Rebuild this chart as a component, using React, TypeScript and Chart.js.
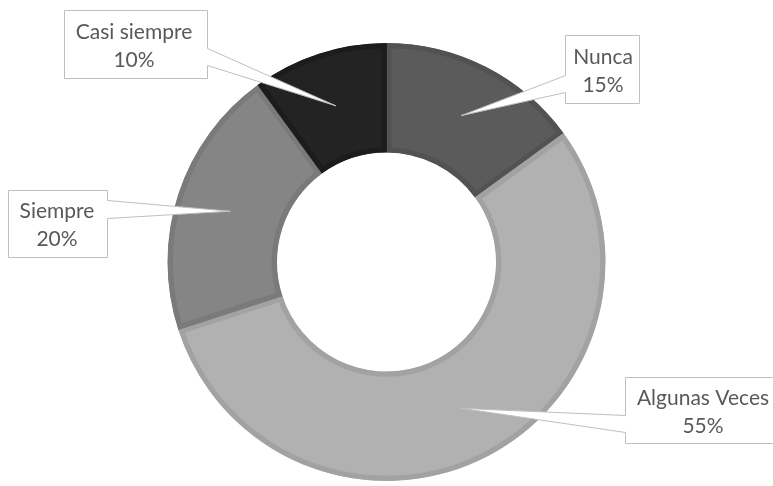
import React, { useEffect, useRef } from "react";
import { Chart, registerables } from "chart.js";

Chart.register(...registerables);

const categories = ["Nunca", "Algunas Veces", "Siempre", "Casi siempre"];
const values = [15, 55, 20, 10];
const percentLabels = ["15%", "55%", "20%", "10%"];
const fillColors = ["#5b5b5b", "#b1b1b1", "#858585", "#232323"];
const borderColors = ["#525252", "#a2a2a2", "#7a7a7a", "#1c1c1c"];

// callout boxes: [left, top, right, bottom], pointer side, base y1, base y2, text centre x
const callouts = [
  { box: [565, 35, 639, 103], side: "left", b1: 75, b2: 92, tx: 603 },
  { box: [625, 377, 790, 443], side: "left", b1: 415, b2: 432, tx: 703 },
  { box: [8, 190, 107, 257], side: "right", b1: 200, b2: 218, tx: 57 },
  { box: [64, 10, 207, 78], side: "right", b1: 48, b2: 65, tx: 134 },
];

const calloutPlugin = {
  id: "callouts",
  afterDraw(chart: any) {
    const ctx = chart.ctx;
    const meta = chart.getDatasetMeta(0);
    ctx.save();
    meta.data.forEach((arc: any, i: number) => {
      const c = callouts[i];
      const tip = arc.tooltipPosition();
      const [l, t, r, b] = c.box.map((v: number) => v + 0.5);
      ctx.beginPath();
      if (c.side === "right") {
        ctx.moveTo(l, t);
        ctx.lineTo(r, t);
        ctx.lineTo(r, c.b1 + 0.5);
        ctx.lineTo(tip.x, tip.y);
        ctx.lineTo(r, c.b2 + 0.5);
        ctx.lineTo(r, b);
        ctx.lineTo(l, b);
      } else {
        ctx.moveTo(l, t);
        ctx.lineTo(r, t);
        ctx.lineTo(r, b);
        ctx.lineTo(l, b);
        ctx.lineTo(l, c.b2 + 0.5);
        ctx.lineTo(tip.x, tip.y);
        ctx.lineTo(l, c.b1 + 0.5);
      }
      ctx.closePath();
      ctx.fillStyle = "#ffffff";
      ctx.fill();
      ctx.lineWidth = 1;
      ctx.strokeStyle = "#bfbfbf";
      ctx.stroke();

      const cy = (c.box[1] + c.box[3]) / 2;
      ctx.fillStyle = "#595959";
      ctx.font = "21px Lato, 'Open Sans', sans-serif";
      ctx.textAlign = "center";
      ctx.textBaseline = "middle";
      ctx.fillText(categories[i], c.tx, cy - 12);
      ctx.fillText(percentLabels[i], c.tx, cy + 16);
    });
    ctx.restore();
  },
};

export default function App() {
  const ref = useRef<HTMLCanvasElement>(null);
  useEffect(() => {
    document.body.style.margin = "0";
    const chart = new Chart(ref.current!, {
      type: "doughnut",
      data: {
        labels: categories,
        datasets: [
          {
            data: values,
            backgroundColor: fillColors,
            borderColor: borderColors,
            borderWidth: 5,
            borderAlign: "inner",
          } as any,
        ],
      },
      options: {
        animation: false,
        responsive: false,
        radius: 219,
        cutout: "50%",
        layout: { padding: { top: 43, bottom: 5, left: 0, right: 0 } },
        plugins: { legend: { display: false }, tooltip: { enabled: false } },
      } as any,
      plugins: [calloutPlugin],
    });
    return () => chart.destroy();
  }, []);
  return (
    <div style={{ width: 773, height: 486, background: "#fff" }}>
      <canvas ref={ref} width={773} height={486} />
    </div>
  );
}
